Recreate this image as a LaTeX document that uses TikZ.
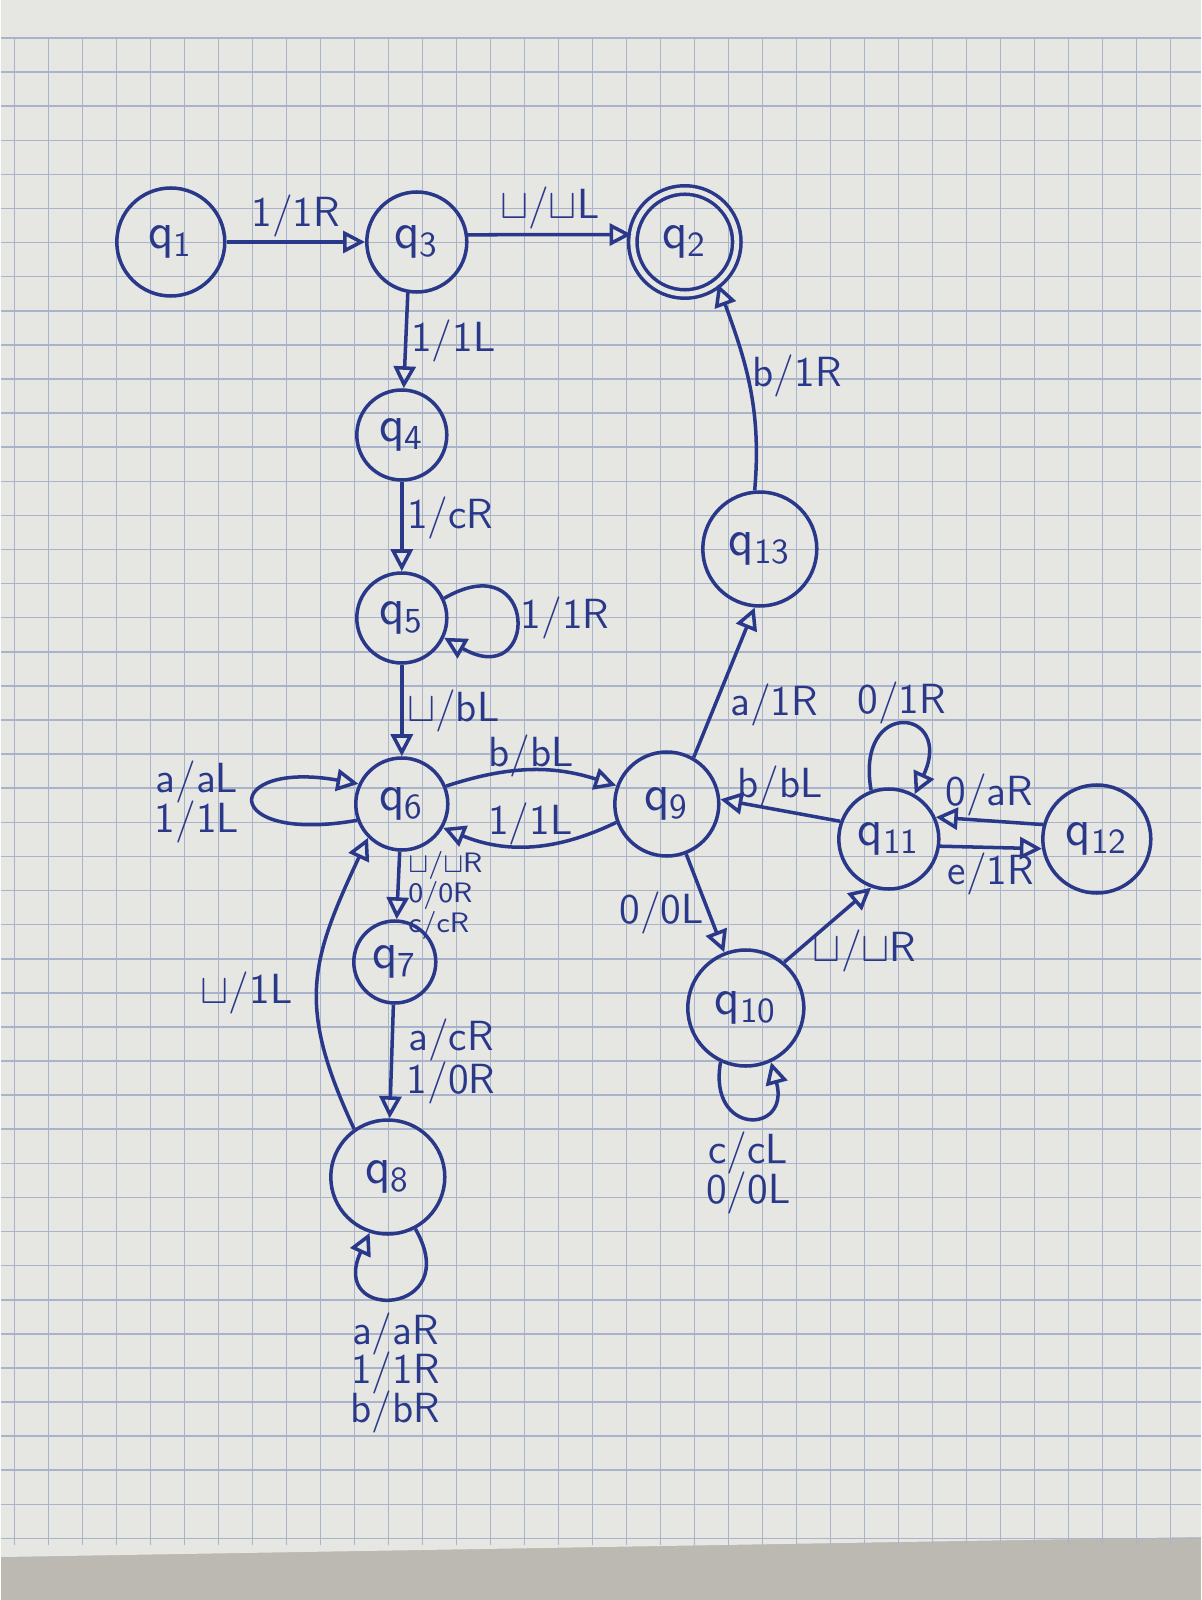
\documentclass[tikz,border=0pt]{standalone}
\usepackage{tikz}
\usetikzlibrary{positioning,arrows.meta}

\definecolor{ink}{HTML}{2A388A}
\definecolor{paper}{HTML}{E6E6E3}
\definecolor{gridline}{HTML}{A9B4CB}
\definecolor{desk}{HTML}{BCB9B3}

\newcommand{\tmtight}{\setlength{\lineskiplimit}{-10pt}}

\tikzset{
  tmstate/.style={circle, draw=ink, text=ink, line width=1pt, minimum size=1cm, inner sep=0pt, font=\Large\sffamily},
  tmaccept/.style={tmstate, double=paper, double distance=1.4pt},
  tmedge/.style={draw=ink, line width=1pt, -{Triangle[open,length=2.2mm,width=2.2mm]}},
  tmlabel/.style={text=ink, font=\linespread{0.8}\large\sffamily\tmtight, align=center, inner sep=1pt},
}

\begin{document}
\begin{tikzpicture}[on grid]
  % squared paper
  \fill[desk] (0,0) rectangle (12,-16);
  \fill[paper] (0,0) -- (12,0) -- (12,-15.37) -- (0,-15.57) -- cycle;
  \foreach \gx in {0,...,34}
    \draw[gridline, line width=0.45pt] ({0.138+0.34*\gx},-0.38) -- ({0.138+0.34*\gx},-15.45);
  \foreach \gy in {0,...,44}
    \draw[gridline, line width=0.45pt] (0,{-0.38-0.341*\gy}) -- (12,{-0.38-0.341*\gy});

  % states
  \node[tmstate, minimum size=1.08cm] (q1) at (1.70,-2.42) {q\textsubscript{1}};
  \node[tmstate] (q3) [right=2.46 of q1] {q\textsubscript{3}};
  \node[tmaccept, minimum size=1.04cm] (q2) [right=2.68 of q3] {q\textsubscript{2}};
  \node[tmstate, minimum size=0.9cm] (q4) [below left=1.93 and 0.15 of q3] {q\textsubscript{4}};
  \node[tmstate, minimum size=0.9cm] (q5) [below=1.83 of q4] {q\textsubscript{5}};
  \node[tmstate, minimum size=0.92cm] (q6) [below=1.86 of q5] {q\textsubscript{6}};
  \node[tmstate, minimum size=0.82cm] (q7) [below left=1.58 and 0.07 of q6] {q\textsubscript{7}};
  \node[tmstate, minimum size=1.14cm] (q8) [below left=2.15 and 0.07 of q7] {q\textsubscript{8}};
  \node[tmstate, minimum size=1.04cm] (q9) [right=2.65 of q6] {q\textsubscript{9}};
  \node[tmstate, minimum size=1.16cm] (q10) [below right=2.04 and 0.79 of q9] {q\textsubscript{10}};
  \node[tmstate] (q11) [below right=0.35 and 2.22 of q9] {q\textsubscript{11}};
  \node[tmstate, minimum size=1.08cm] (q12) [right=2.08 of q11] {q\textsubscript{12}};
  \node[tmstate, minimum size=1.14cm] (q13) [above right=2.55 and 0.93 of q9] {q\textsubscript{13}};

  % transitions
  \draw[tmedge] (q1) -- node[tmlabel, above] {1/1R} (q3);
  \draw[tmedge] (q3.8) -- node[tmlabel, above] {$\sqcup$/$\sqcup$L} (q2.172);
  \draw[tmedge] (q3.-100) -- node[tmlabel, right] {1/1L} (q4);
  \draw[tmedge] (q4) -- node[tmlabel, right, pos=0.4] {1/cR} (q5);
  \draw[tmedge] (q5.25) .. controls +(30:1.1) and +(-30:1.1) .. node[tmlabel, right] {1/1R} (q5.-25);
  \draw[tmedge] (q5) -- node[tmlabel, right] {$\sqcup$/bL} (q6);
  \draw[tmedge] (q6.200) .. controls +(190:1.4) and +(170:1.4) .. node[tmlabel, left, xshift=-1mm] {a/aL\\1/1L} (q6.155);
  \draw[tmedge] (q6.22) to[bend left=18] node[tmlabel, above, yshift=-1.2mm] {b/bL} (q9.160);
  \draw[tmedge] (q9.200) to[bend left=24] node[tmlabel, above, yshift=-0.5mm] {1/1L} (q6.-30);
  \draw[tmedge] (q6) -- node[tmlabel, right, align=left, yshift=-1mm, xshift=0.5mm, font=\linespread{0.9}\footnotesize\sffamily\tmtight] {$\sqcup$/$\sqcup$R\\0/0R\\c/cR} (q7);
  \draw[tmedge] (q7) -- node[tmlabel, right, xshift=1mm] {a/cR\\[1pt]1/0R} (q8);
  \draw[tmedge] (q8.125) to[out=115, in=245, looseness=1.2] node[tmlabel, left, xshift=-2mm, yshift=-1mm] {$\sqcup$/1L} (q6.225);
  \draw[tmedge] (q8.-62) .. controls +(-60:1.0) and +(-115:1.0) .. node[tmlabel, below, yshift=-1mm] {a/aR\\1/1R\\b/bR} (q8.-108);
  \draw[tmedge] (q9.60) -- node[tmlabel, right, pos=0.35, xshift=1mm] {a/1R} (q13.-95);
  \draw[tmedge] (q13.95) to[out=85, in=-70] node[tmlabel, right, pos=0.55] {b/1R} (q2.-52);
  \draw[tmedge] (q9) -- node[tmlabel, left, pos=0.6] {0/0L} (q10);
  \draw[tmedge] (q10.-115) .. controls +(-100:0.75) and +(-75:0.75) .. node[tmlabel, below, yshift=-1mm] {c/cL\\0/0L} (q10.-65);
  \draw[tmedge] (q10.50) -- node[tmlabel, below right, xshift=-2mm] {$\sqcup$/$\sqcup$R} (q11.-110);
  \draw[tmedge] (q11.160) -- node[tmlabel, above, yshift=-0.3mm] {b/bL} (q9.5);
  \draw[tmedge] (q11.110) .. controls +(100:0.95) and +(65:0.95) .. node[tmlabel, above, yshift=-0.4mm] {0/1R} (q11.60);
  \draw[tmedge] (q12.165) -- node[tmlabel, above] {0/aR} (q11.25);
  \draw[tmedge] (q11.-8) -- node[tmlabel, below] {e/1R} (q12.190);
\end{tikzpicture}
\end{document}
